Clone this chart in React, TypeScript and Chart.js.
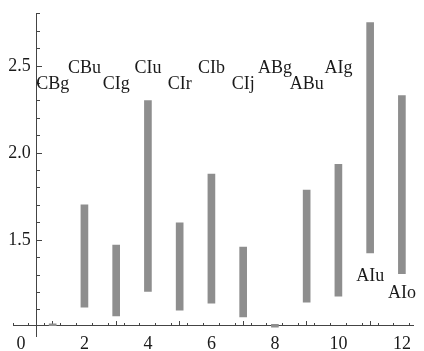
import React, { useEffect, useRef } from "react";
import { Chart, registerables } from "chart.js";

Chart.register(...registerables);

// Categories (x positions) and their names
const positions = [1, 2, 3, 4, 5, 6, 7, 8, 9, 10, 11, 12];
const names = ["CBg", "CBu", "CIg", "CIu", "CIr", "CIb", "CIj", "ABg", "ABu", "AIg", "AIu", "AIo"];
// Range bar values
const lows = [1.009, 1.116, 1.065, 1.206, 1.099, 1.138, 1.059, 1.0, 1.144, 1.178, 1.427, 1.308];
const highs = [1.02, 1.703, 1.472, 2.302, 1.6, 1.879, 1.46, 1.017, 1.788, 1.935, 2.749, 2.33];
// Label anchor heights (data units)
const labelYs = [2.367, 2.462, 2.367, 2.462, 2.367, 2.462, 2.367, 2.462, 2.367, 2.462, 1.268, 1.168];

// Ticks
const xMajorTicks = [0, 2, 4, 6, 8, 10, 12];
const xMinorTicks = [-0.0, 0.5, 1, 1.5, 2, 2.5, 3, 3.5, 4, 4.5, 5, 5.5, 6, 6.5, 7, 7.5, 8, 8.5, 9, 9.5, 10, 10.5, 11, 11.5, 12];
const yMajorTicks = [1.5, 2.0, 2.5];
const yMinorTicks = [1.1, 1.2, 1.3, 1.4, 1.5, 1.6, 1.7, 1.8, 1.9, 2.0, 2.1, 2.2, 2.3, 2.4, 2.5, 2.6, 2.7, 2.8];

const X_MIN = -0.25;
const X_MAX = 12.35;
const Y_MIN = 0.95;
const Y_MAX = 2.8;
const X_AXIS_AT = 1.0085;
const Y_AXIS_AT = 0.5;

const FONT = "'Liberation Serif', 'DejaVu Serif', serif";
const AXIS_COLOR = "#444";
const TEXT_COLOR = "#1a1a1a";
const BAR_COLOR = "#8e8e8e";

const labelPlugin = {
  id: "barNames",
  afterDatasetsDraw(chart: any) {
    const ctx = chart.ctx;
    const xs = chart.scales.x;
    const ys = chart.scales.y;
    ctx.save();
    ctx.font = `18px ${FONT}`;
    ctx.fillStyle = TEXT_COLOR;
    ctx.textAlign = "center";
    ctx.textBaseline = "alphabetic";
    names.forEach((n, i) => {
      ctx.fillText(n, xs.getPixelForValue(positions[i]), ys.getPixelForValue(labelYs[i]));
    });
    ctx.restore();
  },
};

const setTicks = (values: number[]) => (scale: any) => {
  scale.ticks = values.map((v) => ({ value: v }));
};

export default function App() {
  const ref = useRef<HTMLCanvasElement | null>(null);

  useEffect(() => {
    if (!ref.current) return;
    const chart = new Chart(ref.current, {
      type: "bar",
      data: {
        datasets: [
          {
            data: positions.map((x, i) => ({ x, y: [lows[i], highs[i]] })) as any,
            backgroundColor: BAR_COLOR,
            borderWidth: 0,
            barThickness: 7,
            grouped: false,
            xAxisID: "x",
            yAxisID: "y",
          },
        ],
      },
      options: {
        animation: false,
        responsive: false,
        devicePixelRatio: 1,
        layout: { padding: { left: 13, right: 4, top: 9, bottom: 15 } },
        plugins: { legend: { display: false }, tooltip: { enabled: false } },
        scales: {
          x: {
            type: "linear",
            min: X_MIN,
            max: X_MAX,
            offset: false,
            position: { y: X_AXIS_AT } as any,
            afterBuildTicks: setTicks(xMajorTicks),
            grid: { drawOnChartArea: false, drawTicks: true, tickLength: -5, tickColor: AXIS_COLOR, tickWidth: 1 },
            border: { display: true, color: AXIS_COLOR, width: 1 },
            ticks: {
              padding: 13,
              color: TEXT_COLOR,
              font: { family: FONT, size: 18 },
              maxRotation: 0,
              autoSkip: false,
              callback: (v: any) => String(v),
            },
          },
          xm: {
            type: "linear",
            min: X_MIN,
            max: X_MAX,
            offset: false,
            position: { y: X_AXIS_AT } as any,
            afterBuildTicks: setTicks(xMinorTicks),
            grid: { drawOnChartArea: false, drawTicks: true, tickLength: -3, tickColor: AXIS_COLOR, tickWidth: 1 },
            border: { display: false },
            ticks: { callback: () => "", autoSkip: false },
          },
          y: {
            type: "linear",
            min: Y_MIN,
            max: Y_MAX,
            position: { x: Y_AXIS_AT } as any,
            afterBuildTicks: setTicks(yMajorTicks),
            grid: { drawOnChartArea: false, drawTicks: true, tickLength: -6, tickColor: AXIS_COLOR, tickWidth: 1 },
            border: { display: true, color: AXIS_COLOR, width: 1 },
            ticks: { callback: () => "", autoSkip: false },
          },
          ym: {
            type: "linear",
            min: Y_MIN,
            max: Y_MAX,
            position: { x: Y_AXIS_AT } as any,
            afterBuildTicks: setTicks(yMinorTicks),
            grid: { drawOnChartArea: false, drawTicks: true, tickLength: -3, tickColor: AXIS_COLOR, tickWidth: 1 },
            border: { display: false },
            ticks: { callback: () => "", autoSkip: false },
          },
          ylab: {
            type: "linear",
            min: Y_MIN,
            max: Y_MAX,
            position: { x: 0.31 } as any,
            afterBuildTicks: setTicks(yMajorTicks),
            grid: { display: false },
            border: { display: false },
            ticks: {
              color: TEXT_COLOR,
              font: { family: FONT, size: 18 },
              autoSkip: false,
              callback: (v: any) => Number(v).toFixed(1),
            },
          },
        },
      },
      plugins: [labelPlugin],
    });
    return () => chart.destroy();
  }, []);

  return (
    <div style={{ position: "absolute", left: 0, top: 0, width: 424, height: 351, background: "#fff" }}>
      <canvas ref={ref} width={424} height={351} />
    </div>
  );
}
